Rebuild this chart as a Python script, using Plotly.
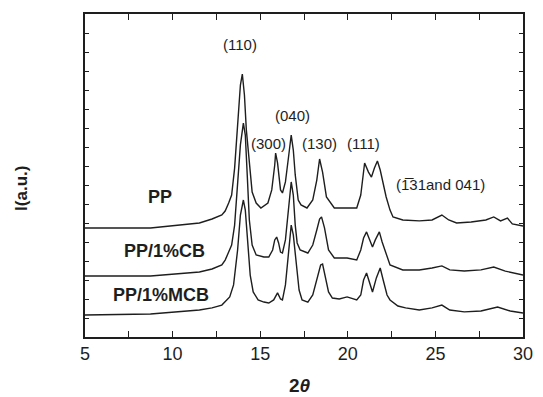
import plotly.graph_objects as go

# 2-theta (deg) and intensity (a.u., offset traces)
pp_x = [5.00, 8.74, 11.53, 12.25, 12.81, 13.00, 13.20, 13.37, 13.54, 13.71, 13.87, 13.98, 14.10, 14.21, 14.38, 14.54, 14.77,
        15.04, 15.44, 15.66, 15.83, 15.88, 15.99, 16.16, 16.27, 16.44, 16.61, 16.77, 16.89, 17.00, 17.17, 17.33,
        17.67, 18.00, 18.23, 18.39, 18.56, 18.78, 19.23, 19.96, 20.51, 20.74, 20.96, 21.18, 21.35, 21.52, 21.69,
        21.85, 22.02, 22.19, 22.41, 22.58, 23.14, 24.08, 24.81, 25.37, 25.76, 26.21, 27.04, 27.88, 28.33, 28.72,
        29.11, 29.39, 30.00]
pp_y = [5.74, 5.74, 6.00, 6.21, 6.42, 6.63, 7.05, 7.47, 8.89, 11.32, 13.26, 13.84, 12.74, 10.89, 9.05, 7.63, 7.05,
        6.79, 7.05, 7.74, 9.05, 9.68, 9.16, 7.74, 7.58, 8.16, 9.42, 10.63, 9.84, 8.53, 7.21, 6.95,
        6.79, 7.21, 8.26, 9.37, 8.68, 7.37, 6.79, 6.79, 6.79, 7.47, 9.16, 8.68, 8.42, 8.89, 9.26,
        8.79, 8.00, 7.37, 6.68, 6.32, 6.16, 6.11, 6.16, 6.42, 6.16, 6.00, 6.05, 6.16, 6.32, 6.11,
        6.26, 5.95, 5.84]

cb_x = [5.00, 8.74, 11.53, 12.25, 12.81, 13.00, 13.20, 13.37, 13.54, 13.71, 13.87, 14.04, 14.15, 14.26, 14.38, 14.54, 14.77,
        15.21, 15.49, 15.71, 15.83, 15.94, 16.05, 16.16, 16.27, 16.44, 16.61, 16.77, 16.89, 17.00, 17.11, 17.28,
        17.72, 18.00, 18.23, 18.39, 18.50, 18.67, 18.90, 19.23, 19.96, 20.51, 20.74, 20.90, 21.07, 21.24, 21.41,
        21.57, 21.80, 21.96, 22.19, 22.41, 23.14, 24.08, 24.81, 25.37, 25.82, 26.65, 27.60, 28.33, 28.99, 30.00]
cb_y = [3.21, 3.21, 3.42, 3.58, 3.79, 4.05, 4.47, 4.84, 5.89, 8.00, 10.11, 11.26, 10.63, 8.53, 6.16, 4.84, 4.32,
        4.21, 4.21, 4.58, 5.11, 5.26, 4.95, 4.47, 4.42, 5.11, 6.68, 8.16, 7.47, 5.89, 4.95, 4.58,
        4.42, 4.84, 5.63, 6.21, 6.32, 5.74, 4.58, 4.16, 4.16, 4.05, 4.58, 5.21, 5.53, 5.11, 4.74,
        5.11, 5.53, 5.00, 4.32, 3.79, 3.53, 3.53, 3.63, 3.74, 3.53, 3.47, 3.53, 3.68, 3.47, 3.26]

mcb_x = [5.00, 8.74, 11.53, 12.25, 12.81, 13.00, 13.26, 13.48, 13.71, 13.87, 14.04, 14.15, 14.26, 14.43, 14.60, 14.88, 15.21,
         15.49, 15.77, 15.99, 16.16, 16.27, 16.44, 16.61, 16.77, 16.89, 17.05, 17.22, 17.39, 17.72, 18.00, 18.23,
         18.45, 18.56, 18.73, 18.90, 19.12, 19.51, 19.96, 20.51, 20.74, 20.90, 21.07, 21.24, 21.41, 21.63, 21.85,
         22.02, 22.24, 22.41, 22.86, 23.30, 24.08, 24.81, 25.37, 25.82, 26.65, 27.60, 28.55, 29.27, 30.00]
mcb_y = [1.16, 1.21, 1.42, 1.53, 1.68, 1.84, 2.11, 2.74, 4.58, 6.42, 7.21, 6.68, 5.11, 3.26, 2.37, 1.95, 1.84,
         1.79, 1.95, 2.32, 2.00, 1.95, 2.74, 4.58, 5.89, 5.37, 3.79, 2.47, 1.95, 1.84, 2.21, 3.00,
         3.79, 3.84, 3.11, 2.37, 2.05, 2.00, 2.11, 1.95, 2.21, 3.00, 3.37, 2.89, 2.37, 3.11, 3.63,
         3.00, 2.21, 1.95, 1.63, 1.53, 1.42, 1.53, 1.68, 1.42, 1.32, 1.37, 1.58, 1.37, 1.26]

series = [("PP", pp_x, pp_y), ("PP/1%CB", cb_x, cb_y), ("PP/1%MCB", mcb_x, mcb_y)]
series_label_pos = [(9.30, 7.37), (9.52, 4.53), (9.35, 2.21)]

peak_labels = ["(110)", "(300)", "(040)", "(130)", "(111)", "(1\u0305" + "31and 041)"]
peak_label_pos = [(13.87, 15.37), (15.49, 10.21), (16.83, 11.68), (18.39, 10.21), (20.90, 10.21), (25.31, 8.05)]

x_ticks = [5, 10, 15, 20, 25, 30]

FONT = "Liberation Sans, Arial, sans-serif"
INK = "#1e1e1e"

fig = go.Figure()
for name, xs, ys in series:
    fig.add_trace(go.Scatter(x=xs, y=ys, mode="lines", name=name,
                             line=dict(color=INK, width=1.4), showlegend=False))

annotations = []
for (name, _, _), (ax, ay) in zip(series, series_label_pos):
    annotations.append(dict(x=ax, y=ay, text="<b>%s</b>" % name, showarrow=False,
                            font=dict(family=FONT, size=18, color=INK), xanchor="center", yanchor="middle"))
for txt, (ax, ay) in zip(peak_labels, peak_label_pos):
    annotations.append(dict(x=ax, y=ay, text=txt, showarrow=False,
                            font=dict(family=FONT, size=15, color=INK), xanchor="center", yanchor="middle"))
annotations.append(dict(xref="paper", yref="paper", x=-0.145, y=0.46, text="<b>I(a.u.)</b>", textangle=-90,
                        showarrow=False, font=dict(family=FONT, size=17, color=INK),
                        xanchor="center", yanchor="middle"))
annotations.append(dict(xref="paper", yref="paper", x=0.49, y=-0.149, text="<b>2</b><b><i>\u03b8</i></b>",
                        showarrow=False, font=dict(family=FONT, size=19, color=INK),
                        xanchor="center", yanchor="middle"))

fig.update_layout(
    width=543, height=397,
    margin=dict(l=85, r=10, t=14, b=60),
    paper_bgcolor="white", plot_bgcolor="white",
    annotations=annotations,
    xaxis=dict(range=[5, 30], tickvals=x_ticks, ticktext=[str(v) for v in x_ticks],
               ticks="inside", ticklen=6, tickwidth=1.2, tickcolor=INK,
               minor=dict(dtick=2.5, tick0=5, ticks="inside", ticklen=6, tickwidth=1.2, tickcolor=INK),
               showline=True, linecolor=INK, linewidth=1.5, mirror="ticks",
               showgrid=False, zeroline=False,
               tickfont=dict(family=FONT, size=18, color=INK)),
    yaxis=dict(range=[0, 17], dtick=1, tick0=0, showticklabels=False,
               ticks="inside", ticklen=4, tickwidth=1, tickcolor=INK,
               showline=True, linecolor=INK, linewidth=1.5, mirror="ticks",
               showgrid=False, zeroline=False),
)

fig.write_html("out.html")
